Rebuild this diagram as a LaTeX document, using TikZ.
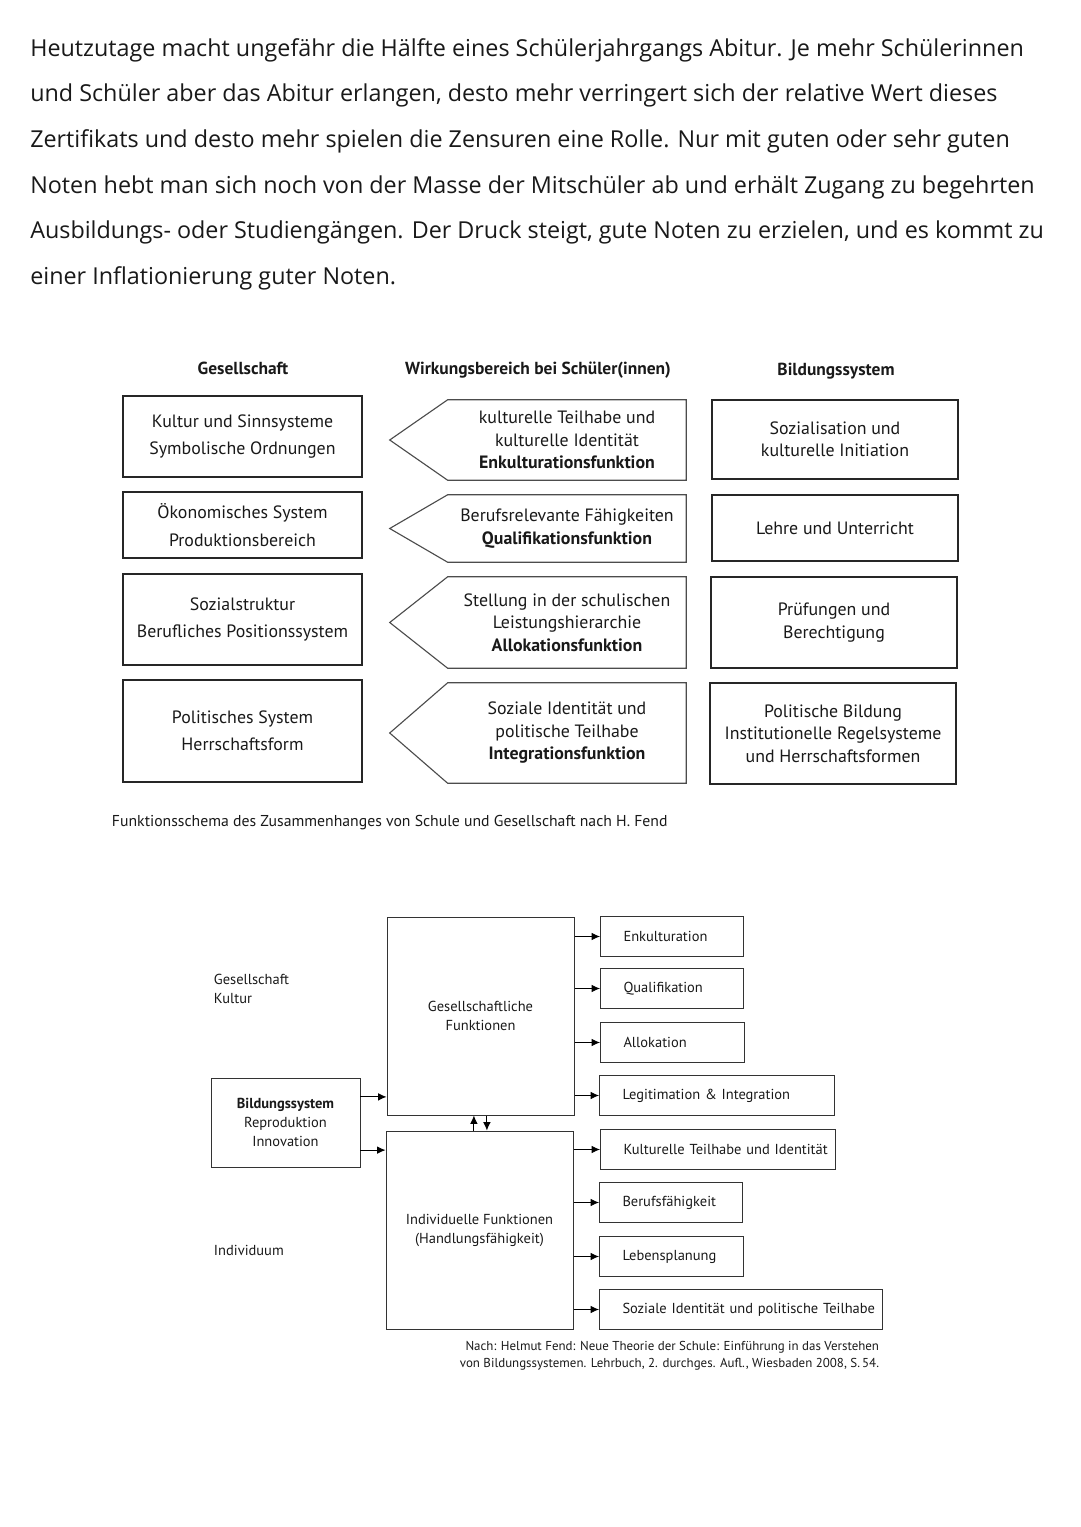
\documentclass[tikz,border=0pt]{standalone}
\usepackage{fontspec}
\setmainfont{PT Sans}
\newfontfamily\handfont{Open Sans}
\usetikzlibrary{arrows.meta,positioning,calc}

\begin{document}
\begin{tikzpicture}[
  x=0.25mm, y=-0.25mm,
  every node/.style={font=\fontsize{12.7}{16}\selectfont, text=black!90},
  header/.style={font=\bfseries\fontsize{12.4}{14}\selectfont},
  socbox/.style={
    rectangle,
    draw=black!85,
    line width=0.9pt,
    minimum width=59.75mm,
    align=center,
    font=\fontsize{12.7}{19.5}\selectfont
  },
  effbody/.style={
    rectangle,
    minimum width=59.5mm,
    align=center
  },
  effarrow/.style={draw=black!70, line width=0.8pt, line join=miter},
  edubox/.style={
    rectangle,
    draw=black!85,
    line width=0.9pt,
    minimum width=61.5mm,
    align=center
  },
  bigbox/.style={
    rectangle,
    draw=black!80,
    line width=0.7pt,
    minimum width=46.75mm,
    minimum height=49.5mm,
    align=center,
    font=\fontsize{10.3}{13.5}\selectfont
  },
  outbox/.style={
    rectangle,
    draw=black!80,
    line width=0.7pt,
    minimum height=10mm,
    anchor=west,
    inner xsep=0pt,
    align=left,
    execute at begin node={\hspace*{5.75mm}},
    font=\fontsize{10.3}{12}\selectfont
  },
  sidelabel/.style={anchor=west, align=left, font=\fontsize{10.3}{13.5}\selectfont},
  arrow/.style={-{Latex[length=2.1mm,width=1.9mm]}, line width=0.6pt}
]
\useasboundingbox (0,0) rectangle (1080,1527);

% Intro text
\node[anchor=north west, align=left, inner sep=0pt,
  font=\handfont\fontsize{16.6}{32.5}\selectfont] (intro) at (30,38)
  {Heutzutage macht ungefähr die Hälfte eines Schülerjahrgangs Abitur. Je mehr Schülerinnen\\
   und Schüler aber das Abitur erlangen, desto mehr verringert sich der relative Wert dieses\\
   Zertifikats und desto mehr spielen die Zensuren eine Rolle. Nur mit guten oder sehr guten\\
   Noten hebt man sich noch von der Masse der Mitschüler ab und erhält Zugang zu begehrten\\
   Ausbildungs- oder Studiengängen. Der Druck steigt, gute Noten zu erzielen, und es kommt zu\\
   einer Inflationierung guter Noten.};

% Funktionsschema: headers
\node[header] (hges) at (243,368) {Gesellschaft};
\node[header] (hwirk) at (538,370) {Wirkungsbereich bei Schüler(innen)};
\node[header] (hbild) at (836,371) {Bildungssystem};

% Gesellschaft column
\node[socbox, minimum height=20.25mm] (kultur) at (242.5,436.5) {Kultur und Sinnsysteme\\Symbolische Ordnungen};
\node[socbox, minimum height=16.5mm] (oekon) at (242.5,525) {Ökonomisches System\\Produktionsbereich};
\node[socbox, minimum height=22.75mm] (sozstr) at (242.5,619.5) {Sozialstruktur\\Berufliches Positionssystem};
\node[socbox, minimum height=25.5mm] (polsys) at (242.5,731) {Politisches System\\Herrschaftsform};

% Wirkungsbereich column (arrows pointing left)
\node[effbody, minimum height=20mm] (enkarr) at (567,440) {kulturelle Teilhabe und\\kulturelle Identität\\\textbf{Enkulturationsfunktion}};
\node[effbody, minimum height=16.75mm] (qualarr) at (567,528.5) {Berufsrelevante Fähigkeiten\\\textbf{Qualifikationsfunktion}};
\node[effbody, minimum height=22.75mm] (allarr) at (567,622.5) {Stellung in der schulischen\\Leistungshierarchie\\\textbf{Allokationsfunktion}};
\node[effbody, minimum height=25mm] (intarr) at (567,733) {Soziale Identität und\\politische Teilhabe\\\textbf{Integrationsfunktion}};

\draw[effarrow] (enkarr.north east) -- (enkarr.north west) -- ([xshift=-14.5mm]enkarr.west) -- (enkarr.south west) -- (enkarr.south east) -- cycle;
\draw[effarrow] (qualarr.north east) -- (qualarr.north west) -- ([xshift=-14.5mm]qualarr.west) -- (qualarr.south west) -- (qualarr.south east) -- cycle;
\draw[effarrow] (allarr.north east) -- (allarr.north west) -- ([xshift=-14.5mm]allarr.west) -- (allarr.south west) -- (allarr.south east) -- cycle;
\draw[effarrow] (intarr.north east) -- (intarr.north west) -- ([xshift=-14.5mm]intarr.west) -- (intarr.south west) -- (intarr.south east) -- cycle;

% Bildungssystem column
\node[edubox, minimum height=19.75mm] (sozial) at (835,439.5) {Sozialisation und\\kulturelle Initiation};
\node[edubox, minimum height=16.5mm] (lehre) at (835,528) {Lehre und Unterricht};
\node[edubox, minimum height=22.75mm] (pruef) at (834,622.5) {Prüfungen und\\Berechtigung};
\node[edubox, minimum height=25.25mm] (polbild) at (833,733.5) {Politische Bildung\\Institutionelle Regelsysteme\\und Herrschaftsformen};

\node[anchor=west, font=\fontsize{11.2}{13}\selectfont] (caption) at (107,823) {Funktionsschema des Zusammenhanges von Schule und Gesellschaft nach H. Fend};

% Funktionen der Schule
\node[sidelabel] (gesell) at (209,988.5) {Gesellschaft\\Kultur};
\node[sidelabel] (indiv) at (209,1250) {Individuum};
\node[rectangle, draw=black!80, line width=0.7pt, minimum width=37.25mm, minimum height=22.25mm,
  align=center, font=\fontsize{10.3}{13.5}\selectfont] (bild) at (285.5,1122.5)
  {\textbf{Bildungssystem}\\Reproduktion\\Innovation};

\node[bigbox] (gesfkt) at (480.5,1016) {Gesellschaftliche\\Funktionen};
\node[bigbox] (indfkt) at (479.5,1230) {Individuelle Funktionen\\(Handlungsfähigkeit)};

\node[outbox, text width=35.75mm] (enk) at (600,936.5) {Enkulturation};
\node[outbox, text width=35.75mm] (qual) at (600,988.5) {Qualifikation};
\node[outbox, text width=36mm] (allo) at (600,1042.5) {Allokation};
\node[outbox, text width=58.75mm] (legit) at (599,1095.5) {Legitimation \& Integration};
\node[outbox, text width=58.75mm] (kultid) at (600,1149.5) {Kulturelle Teilhabe und Identität};
\node[outbox, text width=35.75mm] (beruf) at (599,1202.5) {Berufsfähigkeit};
\node[outbox, text width=36mm] (leben) at (599,1256.5) {Lebensplanung};
\node[outbox, text width=70.75mm] (sozid) at (599,1309.5) {Soziale Identität und politische Teilhabe};

% Connections
\draw[arrow] ([yshift=6.4mm]bild.east) -- ([yshift=6.4mm]bild.east -| gesfkt.west);
\draw[arrow] ([yshift=-6.9mm]bild.east) -- ([yshift=-6.9mm]bild.east -| indfkt.west);
\draw[arrow] ([xshift=-1.4mm]indfkt.north) -- ([xshift=-1.4mm]indfkt.north |- gesfkt.south);
\draw[arrow] ([xshift=1.6mm]gesfkt.south) -- ([xshift=1.6mm]gesfkt.south |- indfkt.north);

\draw[arrow] (gesfkt.east |- enk) -- (enk);
\draw[arrow] (gesfkt.east |- qual) -- (qual);
\draw[arrow] (gesfkt.east |- allo) -- (allo);
\draw[arrow] (gesfkt.east |- legit) -- (legit);
\draw[arrow] (indfkt.east |- kultid) -- (kultid);
\draw[arrow] (indfkt.east |- beruf) -- (beruf);
\draw[arrow] (indfkt.east |- leben) -- (leben);
\draw[arrow] (indfkt.east |- sozid) -- (sozid);

\node[anchor=east, align=right, font=\fontsize{9.2}{12.3}\selectfont] (source) at (884,1355.5)
  {Nach: Helmut Fend: Neue Theorie der Schule: Einführung in das Verstehen\\
   von Bildungssystemen. Lehrbuch, 2. durchges. Aufl., Wiesbaden 2008, S.\,54.};

\end{tikzpicture}
\end{document}
